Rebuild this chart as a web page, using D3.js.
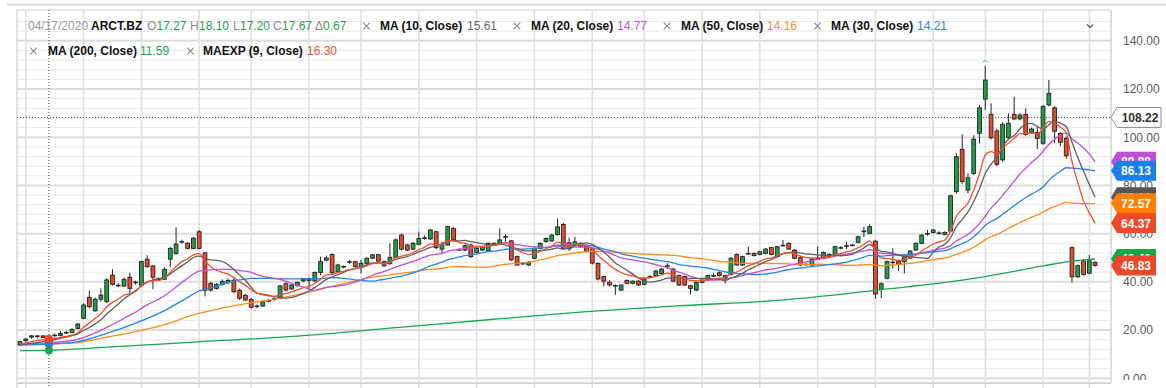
<!DOCTYPE html>
<html>
<head>
<meta charset="utf-8">
<script src="https://cdn.jsdelivr.net/npm/d3@7"></script>
<style>
  body { margin: 0; background: #fff; }
  svg { display: block; font-family: "Liberation Sans", Arial, Helvetica, sans-serif; }
</style>
</head>
<body>
<svg id="chart" width="1166" height="388"></svg>
<script>
// ARCT.BZ daily candles, 04/09/2020 .. 01/05/2021
var opens = [13.8, 15.6, 17.1, 17.5, 17.6, 17.27, 17.7, 17.8, 18.8, 19.0,
    20.7, 24.9, 33.6, 28.0, 32.8, 31.8, 42.8, 38.6, 38.3, 41.9,
    39.9, 38.7, 49.4, 46.6, 41.3, 41.1, 49.4, 51.8, 56.5, 56.0,
    53.9, 60.8, 52.0, 39.4, 37.3, 39.0, 39.8, 40.7, 36.5, 34.4,
    32.7, 30.0, 30.0, 32.0, 32.8, 33.2, 39.2, 37.1, 38.4, 40.4,
    41.2, 40.4, 43.9, 49.0, 51.4, 44.2, 46.2, 48.2, 48.4, 46.0,
    47.7, 49.8, 51.3, 48.4, 47.7, 50.2, 59.4, 55.3, 53.6, 55.6,
    58.0, 57.8, 60.8, 53.6, 55.3, 62.2, 53.4, 53.2, 55.3, 52.2,
    53.2, 52.8, 55.3, 55.6, 58.6, 57.0, 50.5, 47.6, 47.0, 49.8,
    53.9, 56.7, 57.0, 59.6, 63.8, 56.2, 55.2, 56.0, 55.0, 53.6,
    47.6, 42.2, 39.8, 38.5, 36.6, 40.6, 39.4, 40.3, 39.0, 42.0,
    42.5, 43.5, 46.5, 45.3, 42.6, 42.2, 38.4, 36.6, 39.8, 40.8,
    42.4, 43.8, 41.5, 43.1, 51.4, 47.0, 51.6, 51.8, 51.4, 51.8,
    54.2, 50.5, 55.0, 56.0, 53.2, 50.0, 47.2, 47.0, 49.6, 49.8,
    51.4, 51.2, 54.0, 54.8, 55.2, 56.4, 60.8, 60.1, 56.9, 36.9,
    41.5, 48.0, 48.7, 48.4, 49.8, 53.2, 56.0, 59.8, 60.5, 60.3,
    59.7, 61.1, 77.4, 95.0, 78.1, 85.0, 101.6, 115.8, 109.5, 102.6,
    90.6, 99.8, 109.5, 107.6, 109.5, 102.0, 102.0, 97.5, 113.4, 112.2,
    101.6, 99.5, 54.2, 42.1, 48.7, 43.6, 48.1];
var highs = [15.5, 16.6, 17.9, 17.8, 17.8, 18.10, 18.6, 19.6, 19.6, 20.7,
    23.0, 31.1, 36.4, 33.5, 37.3, 41.5, 45.2, 39.5, 41.8, 43.8,
    40.5, 48.8, 51.1, 47.0, 41.8, 46.0, 54.5, 62.6, 57.5, 56.5,
    58.6, 61.5, 52.5, 40.0, 39.5, 41.0, 41.5, 41.5, 37.2, 35.0,
    33.3, 30.6, 32.2, 32.8, 33.6, 38.8, 39.8, 39.0, 40.2, 41.6,
    41.9, 44.3, 50.5, 50.9, 51.8, 47.5, 46.8, 49.0, 48.8, 49.1,
    50.2, 51.6, 51.6, 48.8, 56.0, 58.0, 60.0, 55.8, 56.6, 60.8,
    59.2, 62.0, 61.2, 56.7, 63.3, 62.6, 54.0, 55.4, 55.8, 54.3,
    54.9, 56.4, 56.4, 62.2, 59.8, 57.4, 50.9, 48.2, 48.6, 54.3,
    56.4, 58.4, 59.8, 66.3, 64.5, 58.3, 58.7, 56.4, 55.4, 54.0,
    48.0, 42.6, 40.7, 39.0, 39.0, 41.0, 40.6, 40.7, 41.6, 42.8,
    45.0, 45.8, 47.7, 45.7, 43.0, 42.6, 38.8, 40.2, 41.2, 43.0,
    43.6, 44.3, 43.0, 50.2, 51.8, 50.9, 54.6, 52.2, 52.9, 54.0,
    54.6, 55.0, 57.4, 56.4, 53.6, 50.4, 47.8, 49.8, 54.6, 52.6,
    51.8, 55.0, 54.8, 56.6, 55.8, 59.2, 62.8, 63.9, 57.3, 39.8,
    48.8, 53.9, 49.2, 50.9, 53.2, 56.4, 59.8, 61.6, 61.9, 61.0,
    61.0, 76.2, 93.3, 101.2, 85.0, 100.8, 113.4, 129.6, 114.0, 103.5,
    106.2, 110.0, 116.8, 110.0, 111.9, 104.0, 104.8, 113.4, 123.7, 112.8,
    102.2, 100.2, 54.6, 47.2, 49.3, 51.1, 48.5];
var lows = [13.5, 15.2, 16.4, 16.6, 16.7, 17.20, 17.3, 17.4, 18.4, 18.7,
    20.3, 24.5, 29.0, 27.6, 31.8, 31.2, 38.5, 37.8, 37.8, 35.2,
    38.8, 38.2, 45.8, 36.9, 40.5, 40.8, 46.0, 51.2, 55.8, 53.5,
    53.5, 53.5, 34.0, 36.0, 36.8, 38.5, 39.0, 35.2, 32.5, 32.0,
    29.0, 29.0, 29.6, 31.5, 32.2, 32.8, 36.0, 36.8, 38.0, 40.0,
    36.5, 40.0, 42.8, 48.6, 42.8, 43.8, 45.6, 47.5, 46.0, 43.5,
    47.2, 49.4, 48.3, 46.3, 47.0, 49.8, 53.0, 52.8, 53.2, 55.2,
    57.5, 57.4, 53.5, 51.8, 55.0, 57.0, 52.8, 52.8, 49.8, 51.8,
    52.8, 52.4, 55.0, 55.2, 56.8, 48.6, 46.6, 47.0, 46.6, 49.4,
    53.5, 56.3, 56.6, 59.2, 53.4, 52.8, 54.6, 54.2, 52.2, 47.2,
    40.6, 38.2, 38.1, 34.6, 36.2, 39.0, 39.0, 38.3, 38.6, 41.6,
    42.1, 43.1, 45.3, 39.9, 38.3, 38.3, 34.8, 36.2, 39.4, 40.4,
    42.0, 42.2, 39.4, 42.7, 46.6, 46.6, 51.2, 50.5, 51.0, 51.4,
    51.0, 50.1, 54.6, 53.2, 49.4, 46.6, 46.8, 46.6, 49.2, 49.4,
    50.1, 50.8, 53.5, 53.6, 54.6, 56.0, 58.6, 59.8, 33.0, 33.2,
    41.0, 45.6, 44.5, 43.5, 49.4, 52.8, 55.6, 59.2, 60.1, 59.6,
    59.3, 60.7, 76.6, 80.7, 76.7, 84.3, 97.5, 111.3, 99.0, 88.0,
    89.8, 99.0, 107.1, 107.0, 100.6, 101.4, 95.1, 96.8, 112.8, 97.5,
    96.2, 91.0, 39.8, 41.6, 42.5, 43.2, 46.3];
var closes = [15.2, 16.3, 17.6, 17.6, 16.9, 17.67, 17.9, 18.6, 19.0, 20.3,
    22.5, 30.4, 29.7, 32.8, 34.5, 40.8, 39.0, 38.4, 41.1, 37.3,
    39.7, 48.4, 46.3, 41.9, 41.1, 45.2, 53.9, 55.7, 56.7, 53.9,
    58.1, 53.9, 36.5, 36.6, 39.0, 40.2, 40.6, 35.9, 33.2, 32.5,
    29.5, 29.8, 31.7, 32.3, 33.0, 38.3, 36.6, 38.7, 39.8, 41.2,
    40.6, 43.9, 48.4, 49.9, 43.8, 47.0, 46.4, 48.4, 46.4, 47.7,
    49.8, 51.2, 48.6, 46.7, 50.2, 57.4, 53.6, 53.2, 56.0, 58.0,
    58.3, 61.5, 54.2, 55.6, 62.9, 57.4, 53.2, 55.0, 50.5, 53.9,
    54.6, 56.0, 56.0, 57.4, 58.8, 49.1, 47.0, 47.7, 48.1, 53.9,
    56.0, 58.0, 59.4, 62.8, 54.0, 53.7, 56.6, 54.7, 52.6, 47.8,
    41.2, 40.3, 38.7, 38.4, 38.7, 39.4, 40.3, 38.7, 41.2, 42.2,
    44.5, 45.3, 46.7, 40.3, 38.7, 38.7, 37.3, 39.8, 40.8, 42.6,
    42.6, 42.6, 42.6, 49.8, 47.0, 50.5, 51.8, 50.9, 52.5, 53.6,
    51.4, 54.6, 55.2, 53.6, 49.8, 47.0, 47.3, 49.4, 49.8, 52.2,
    50.5, 54.6, 54.2, 55.0, 55.3, 58.7, 61.1, 62.9, 35.0, 39.2,
    48.4, 48.2, 47.3, 50.5, 52.8, 56.0, 59.4, 60.1, 61.5, 60.1,
    60.5, 75.7, 91.9, 81.6, 83.2, 99.2, 112.2, 123.7, 99.8, 88.8,
    105.4, 105.8, 107.6, 109.2, 101.2, 103.4, 99.5, 112.7, 118.2, 102.5,
    97.9, 92.3, 42.1, 46.7, 43.1, 48.7, 46.83];

// every second Monday (candle index), where the vertical grid lines sit
var gridIdx = [1, 11, 21, 31, 40, 50, 59, 69, 79, 89, 99, 108, 118, 128, 138, 148, 158, 167, 177, 185];

// start of each average, before the window is full on screen: [candle index, value]
var ma10Warm = [[0, 13.9], [5, 15.61]];
var ma20Warm = [[0, 14.2], [5, 14.77], [10, 16.2], [15, 21.1]];
var ma30Warm = [[0, 13.9], [5, 14.21], [10, 15.2], [15, 18.6], [20, 22.9], [25, 28.1]];
var ma50Warm = [[0, 13.9], [5, 14.16], [10, 14.8], [15, 17.1], [20, 19.4], [25, 22.3], [30, 26.3], [35, 29.1], [40, 31.3], [45, 33.3]];
var ema9Seed = [5, 16.30];
var ma200Pts = [[0, 11.45], [5, 11.59], [15, 12.9], [30, 15.0], [48, 17.5], [65, 21.0], [82, 24.5], [100, 28.0],
    [115, 30.2], [131, 32.3], [148, 36.5], [160, 39.8], [167, 42.2], [177, 46.6], [182, 48.6], [186, 49.49]];

var priceTicks = [0, 20, 40, 60, 80, 100, 120, 140];

// header
var headDate = "04/17/2020";
var headSymbol = "ARCT.BZ";
var headLetters = ["O", "H", "L", "C", "\u0394"];
var headValues = ["17.27", "18.10", "17.20", "17.67", "0.67"];
var legendNames = ["MA (10, Close)", "MA (20, Close)", "MA (50, Close)", "MA (30, Close)", "MA (200, Close)", "MAEXP (9, Close)"];
var legendValues = ["15.61", "14.77", "14.16", "14.21", "11.59", "16.30"];

// right-hand value tags (last value of each series + last close)
var tagNames = ["ma20", "ma30", "ma10", "ma50", "ema9", "ma200", "close"];
var tagValues = [89.88, 86.13, 75.10, 72.57, 64.37, 49.49, 46.83];

var crossIdx = 5;
var crossPrice = 108.22;

var colors = {
    ma10: "#5f5f5f", ma20: "#c24fd9", ma30: "#2585e8", ma50: "#ff8c1a",
    ma200: "#17a84c", ema9: "#f0502e", close: "#e9482b",
    up: "#1f9e4a", down: "#ea4a2a"
};
var tagFill = {
    ma10: "#555555", ma20: "#c04dd8", ma30: "#1a7fe6", ma50: "#ff8000",
    ma200: "#10a84a", ema9: "#ee4a2a", close: "#e9482b"
};
var legendKeys = ["ma10", "ma20", "ma50", "ma30", "ma200", "ema9"];

var svg = d3.select("#chart");
var x = d3.scaleLinear().domain([0, 186]).range([20, 1095.1]);
var y = d3.scaleLinear().domain([0, 140]).range([378.3, 40.8]);

var plotL = 17, plotR = 1111, plotT = 10, plotB = 383;

// ---- moving averages, computed from the closes
function sma(n, warm) {
    var pts = warm.map(function(d){ return {i: d[0], v: d[1]}; });
    for (var i = n - 1; i < closes.length; i++) {
        pts.push({i: i, v: d3.mean(closes.slice(i - n + 1, i + 1))});
    }
    return pts;
}
function ema(n, seed) {
    var k = 2 / (n + 1), out = [];
    out[seed[0]] = seed[1];
    for (var i = seed[0] - 1; i >= 0; i--) out[i] = (out[i + 1] - k * closes[i + 1]) / (1 - k);
    for (var j = seed[0] + 1; j < closes.length; j++) out[j] = out[j - 1] + k * (closes[j] - out[j - 1]);
    return out.map(function(v, i){ return {i: i, v: v}; });
}
var series = {
    ma200: ma200Pts.map(function(d){ return {i: d[0], v: d[1]}; }),
    ma50: sma(50, ma50Warm),
    ma30: sma(30, ma30Warm),
    ma20: sma(20, ma20Warm),
    ma10: sma(10, ma10Warm),
    ema9: ema(9, ema9Seed)
};

// ---- grid
var grid = svg.append("g");
grid.append("line").attr("x1", 7).attr("x2", 1166).attr("y1", 4.5).attr("y2", 4.5)
    .attr("stroke", "#cfcfcf").attr("stroke-width", 1.5);
grid.selectAll("line.h")
    .data(d3.range(0, 152, 4))
    .enter()
    .append("line")
    .attr("x1", plotL).attr("x2", plotR)
    .attr("y1", function(d){ return y(d); }).attr("y2", function(d){ return y(d); })
    .attr("stroke", function(d){ return d % 20 === 0 ? "#dcdcdc" : "#e9e9e9"; })
    .attr("stroke-width", function(d){ return d % 20 === 0 ? 2 : 1; });
grid.selectAll("line.v")
    .data(gridIdx)
    .enter()
    .append("line")
    .attr("x1", function(d){ return x(d); }).attr("x2", function(d){ return x(d); })
    .attr("y1", plotT).attr("y2", 388)
    .attr("stroke", "#e0e0e0").attr("stroke-width", 1.6);
// frame
grid.append("line").attr("x1", plotL).attr("x2", plotR).attr("y1", plotT).attr("y2", plotT).attr("stroke", "#dcdcdc").attr("stroke-width", 1.5);
grid.append("line").attr("x1", plotL).attr("x2", plotR).attr("y1", plotB).attr("y2", plotB).attr("stroke", "#d6d6d6").attr("stroke-width", 2);
grid.append("line").attr("x1", plotL).attr("x2", plotL).attr("y1", plotT).attr("y2", 388).attr("stroke", "#d8d8d8").attr("stroke-width", 1.5);
grid.append("line").attr("x1", plotR).attr("x2", plotR).attr("y1", plotT).attr("y2", plotB).attr("stroke", "#d0d0d0").attr("stroke-width", 1.5);

// ---- candles
var candleData = closes.map(function(c, i){ return {i: i, o: opens[i], h: highs[i], l: lows[i], c: c}; });
var candles = svg.append("g").selectAll("g")
    .data(candleData)
    .enter()
    .append("g");
candles.append("line")
    .attr("x1", function(d){ return x(d.i); }).attr("x2", function(d){ return x(d.i); })
    .attr("y1", function(d){ return y(d.h); }).attr("y2", function(d){ return y(d.l); })
    .attr("stroke", "#222").attr("stroke-width", 1);
candles.append("rect")
    .attr("x", function(d){ return x(d.i) - 1.9; })
    .attr("width", 3.8)
    .attr("y", function(d){ return y(Math.max(d.o, d.c)); })
    .attr("height", function(d){ return Math.max(0.6, Math.abs(y(d.o) - y(d.c))); })
    .attr("fill", function(d){ return d.c >= d.o ? colors.up : colors.down; })
    .attr("stroke", "#222").attr("stroke-width", 0.9);

// little arc over the highest high
var hiIdx = d3.maxIndex(highs);
svg.append("path")
    .attr("d", "M" + (x(hiIdx) - 3) + "," + (y(highs[hiIdx]) - 3) + " Q" + x(hiIdx) + "," + (y(highs[hiIdx]) - 7.5) + " " + (x(hiIdx) + 3) + "," + (y(highs[hiIdx]) - 3))
    .attr("fill", "none").attr("stroke", "#5cc98a").attr("stroke-width", 1);

// ---- study lines
var line = d3.line()
    .x(function(d){ return x(d.i); })
    .y(function(d){ return y(d.v); })
    .curve(d3.curveMonotoneX);
["ma200", "ma50", "ma30", "ma20", "ma10", "ema9"].forEach(function(k){
    svg.append("path")
        .datum(series[k])
        .attr("d", line)
        .attr("fill", "none")
        .attr("stroke", colors[k])
        .attr("stroke-width", 1.3)
        .attr("stroke-linejoin", "round");
});

// ---- crosshair
svg.append("line")
    .attr("x1", x(crossIdx)).attr("x2", x(crossIdx)).attr("y1", plotT).attr("y2", 388)
    .attr("stroke", "#444").attr("stroke-width", 1).attr("stroke-dasharray", "1,2");
svg.append("line")
    .attr("x1", plotL).attr("x2", plotR).attr("y1", y(crossPrice)).attr("y2", y(crossPrice))
    .attr("stroke", "#555").attr("stroke-width", 1).attr("stroke-dasharray", "1,2");
function valueAt(k, i) {
    var s = series[k];
    for (var j = 0; j < s.length; j++) if (s[j].i === i) return s[j].v;
    return null;
}
["ma20", "ma10", "ma50", "ma30", "ema9", "ma200"].forEach(function(k){
    svg.append("circle")
        .attr("cx", x(crossIdx)).attr("cy", y(valueAt(k, crossIdx)))
        .attr("r", 4.2)
        .attr("fill", tagFill[k]);
});

// ---- price axis
var axis = svg.append("g");
axis.selectAll("text")
    .data(priceTicks)
    .enter()
    .append("text")
    .attr("x", 1123)
    .attr("y", function(d){ return y(d) + 4.3; })
    .attr("font-size", 12)
    .attr("fill", "#5a5a5a")
    .text(function(d){ return d3.format(".2f")(d); });
svg.append("rect").attr("x", plotR + 1).attr("y", 380).attr("width", 60).attr("height", 8).attr("fill", "#fff");

// crosshair price box
var cy = y(crossPrice);
svg.append("path")
    .attr("d", "M" + plotR + "," + cy + "L" + (plotR + 6) + "," + (cy - 10) + "L1161," + (cy - 10) + "L1161," + (cy + 10) + "L" + (plotR + 6) + "," + (cy + 10) + "Z")
    .attr("fill", "#fff").attr("stroke", "#8a8a8a").attr("stroke-width", 1);
svg.append("text")
    .attr("x", 1140).attr("y", cy + 4.3).attr("text-anchor", "middle")
    .attr("font-size", 12).attr("font-weight", "bold").attr("fill", "#333")
    .text(d3.format(".2f")(crossPrice));

// value tags, lower ones drawn last
var tags = tagNames.map(function(k, i){ return {k: k, v: tagValues[i]}; })
    .sort(function(a, b){ return b.v - a.v; });
var tagG = svg.append("g").selectAll("g")
    .data(tags)
    .enter()
    .append("g");
tagG.append("path")
    .attr("d", function(d){
        var c = y(d.v);
        return "M" + plotR + "," + c + "L" + (plotR + 6) + "," + (c - 10) + "L1156," + (c - 10) +
            "L1156," + (c + 10) + "L" + (plotR + 6) + "," + (c + 10) + "Z";
    })
    .attr("fill", function(d){ return tagFill[d.k]; });
tagG.append("text")
    .attr("x", 1136).attr("y", function(d){ return y(d.v) + 4.4; })
    .attr("text-anchor", "middle")
    .attr("font-size", 12).attr("font-weight", "bold").attr("fill", "#fff")
    .text(function(d){ return d3.format(".2f")(d.v); });

var head = svg.append("g").attr("font-size", 12);
var rowY = [30, 55];
function put(row, x0, txt, fill, bold) {
    head.append("text")
        .attr("x", x0).attr("y", rowY[row])
        .attr("fill", fill)
        .attr("font-weight", bold ? "bold" : "normal")
        .text(txt);
}
function cross(row, cx) {
    var cyy = rowY[row] - 4;
    head.append("path")
        .attr("d", "M" + (cx - 3.3) + "," + (cyy - 3.3) + "L" + (cx + 3.3) + "," + (cyy + 3.3) + "M" + (cx + 3.3) + "," + (cyy - 3.3) + "L" + (cx - 3.3) + "," + (cyy + 3.3))
        .attr("stroke", "#8a8a8a").attr("stroke-width", 1.1);
}
var letterX = [147, 190, 233, 273, 315];
var valueX = [156.5, 199, 240, 282, 323];
put(0, 28, headDate, "#999", false);
put(0, 91, headSymbol, "#111", true);
headLetters.forEach(function(l, i){
    put(0, letterX[i], l, "#8a8a8a", false);
    put(0, valueX[i], headValues[i], colors.up, false);
});
var legRow = [0, 0, 0, 0, 1, 1];
var legCross = [366.5, 517, 667, 817.5, 33.5, 190.5];
var legLabel = [380, 531, 681, 831, 48, 203];
var legValue = [467, 617, 767, 917, 140, 307];
legendKeys.forEach(function(k, i){
    cross(legRow[i], legCross[i]);
    put(legRow[i], legLabel[i], legendNames[i], "#111", true);
    put(legRow[i], legValue[i], legendValues[i], k === "ma10" ? "#6a6a6a" : colors[k], false);
});
// collapse chevron
svg.append("path")
    .attr("d", "M1087,24.5L1090,27.5L1093,24.5")
    .attr("fill", "none").attr("stroke", "#555").attr("stroke-width", 1.2);
</script>
</body>
</html>
